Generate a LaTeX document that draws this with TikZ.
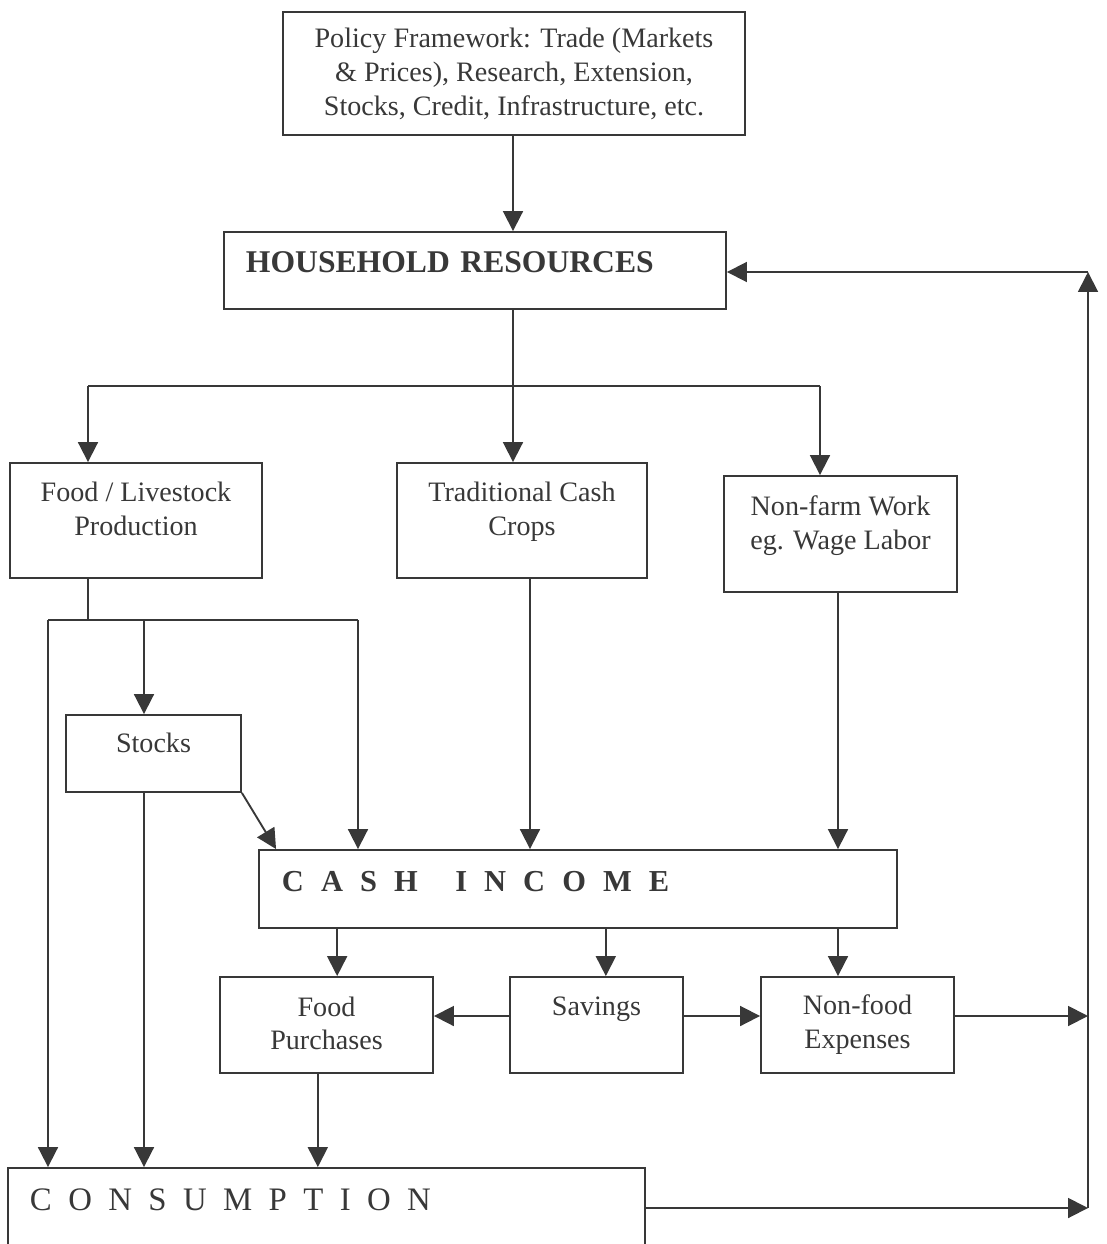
\documentclass[tikz,border=0pt]{standalone}
\usepackage{fontspec}
\setmainfont{Liberation Serif}
\usetikzlibrary{arrows.meta}
\definecolor{ink}{HTML}{383838}

\begin{document}
\begin{tikzpicture}[x=0.015cm,y=-0.015cm,>={Triangle[length=8.5pt,width=8.5pt]},
    line width=0.8pt,color=ink,
    box/.style={draw,rectangle,align=center,font=\fontsize{12}{14.5}\selectfont},
    lift/.style={text depth=#1},
    banner/.style={draw,rectangle,inner ysep=0pt,align=left}]
  \useasboundingbox (0,0) rectangle (1107,1244);
  \clip (0,0) rectangle (1107,1244);

  % Nodes
  \node[box,minimum width=6.93cm,minimum height=1.845cm] (pol) at (514,73.5)
    {Policy Framework: Trade (Markets\\ \& Prices), Research, Extension,\\ Stocks, Credit, Infrastructure, etc.};
  \node[banner,inner xsep=0.33cm,text width=6.87cm,text height=0.615cm,text depth=0.54cm,
    font=\fontsize{13.5}{16}\selectfont\bfseries] (hr) at (475,270.5) {HOUSEHOLD RESOURCES};
  \node[box,lift=10pt,minimum width=3.78cm,minimum height=1.725cm] (food) at (136,520.5) {Food / Livestock\\ Production};
  \node[box,lift=10pt,minimum width=3.75cm,minimum height=1.725cm] (trad) at (522,520.5) {Traditional Cash\\ Crops};
  \node[box,lift=9.5pt,minimum width=3.495cm,minimum height=1.74cm] (nf) at (840.5,534) {Non-farm Work\\ eg. Wage Labor};
  \node[box,lift=9.5pt,minimum width=2.625cm,minimum height=1.155cm] (st) at (153.5,753.5) {Stocks};
  \node[banner,inner xsep=0.345cm,text width=8.88cm,text height=0.615cm,text depth=0.555cm,
    font=\fontsize{13}{16}\selectfont\bfseries\addfontfeatures{LetterSpace=56}] (ci) at (578,889)
    {CASH\hspace{16pt}INCOME};
  \node[box,lift=1.5pt,minimum width=3.195cm,minimum height=1.44cm] (fp) at (326.5,1025) {Food\\ Purchases};
  \node[box,lift=16pt,minimum width=2.595cm,minimum height=1.44cm] (sav) at (596.5,1025) {Savings};
  \node[box,minimum width=2.895cm,minimum height=1.44cm] (nfood) at (857.5,1025) {Non-food\\ Expenses};
  \node[banner,inner xsep=0.33cm,text width=8.895cm,text height=0.63cm,text depth=1.2cm,
    font=\fontsize{14}{16}\selectfont\addfontfeatures{LetterSpace=50}] (cons) at (326.5,1229) {CONSUMPTION};

  % Junctions
  \coordinate (hrout) at (513,386);
  \coordinate (bl) at (88,386);
  \coordinate (br) at (820,386);
  \coordinate (fl) at (48,620);
  \coordinate (fm) at (88,620);
  \coordinate (fs) at (144,620);
  \coordinate (fr) at (358,620);
  \coordinate (nfx) at (838,0);
  \coordinate (rtop) at (1088,272);
  \coordinate (rmid) at (1088,1016);
  \coordinate (rbot) at (1088,1208);

  % Edges
  \draw[->] (pol.south -| hrout) -- (hr.north -| hrout);
  \draw     (hr.south -| hrout) -- (hrout);
  \draw     (bl) -- (br);
  \draw[->] (hrout) -- (hrout |- trad.north);
  \draw[->] (bl) -- (bl |- food.north);
  \draw[->] (br) -- (br |- nf.north);
  \draw     (fm |- food.south) -- (fm);
  \draw     (fl) -- (fr);
  \draw[->] (fl) -- (fl |- cons.north);
  \draw[->] (fs) -- (fs |- st.north);
  \draw[->] (fr) -- (fr |- ci.north);
  \draw[->] (fs |- st.south) -- (fs |- cons.north);
  \draw[->] (st.south east) -- ([xshift=0.27cm]ci.north west);
  \draw[->] ([xshift=0.12cm]trad.south) -- ([xshift=0.12cm]trad.south |- ci.north);
  \draw[->] (nfx |- nf.south) -- (nfx |- ci.north);
  \draw[->] ([xshift=0.16cm]fp.north |- ci.south) -- ([xshift=0.16cm]fp.north);
  \draw[->] ([xshift=0.14cm]sav.north |- ci.south) -- ([xshift=0.14cm]sav.north);
  \draw[->] (nfx |- ci.south) -- (nfx |- nfood.north);
  \draw[->] ([yshift=0.135cm]sav.west) -- ([yshift=0.135cm]fp.east);
  \draw[->] ([yshift=0.135cm]sav.east) -- ([yshift=0.135cm]nfood.west);
  \draw[->] ([yshift=0.135cm]nfood.east) -- (rmid);
  \draw[->] ([xshift=-0.13cm]fp.south) -- ([xshift=-0.13cm]fp.south |- cons.north);
  \draw[->] (cons.east |- rbot) -- (rbot);
  \draw[->] (rbot) -- (rtop);
  \draw[->] (rtop) -- (rtop -| hr.east);
\end{tikzpicture}
\end{document}
